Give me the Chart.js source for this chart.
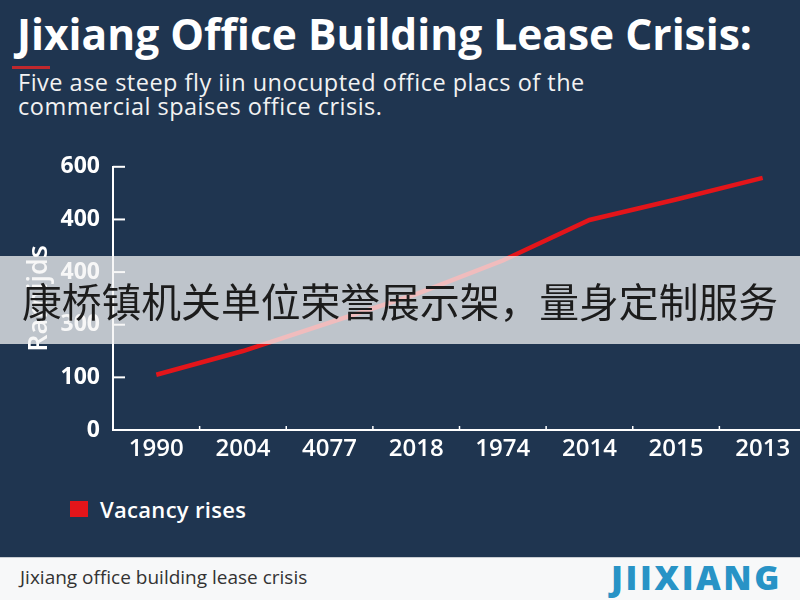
<!DOCTYPE html>
<html>
<head>
<meta charset="utf-8">
<script src="https://cdn.jsdelivr.net/npm/chart.js@4.4.0/dist/chart.umd.min.js"></script>
<style>
  html, body { margin: 0; padding: 0; }
  body { width: 800px; height: 600px; overflow: hidden; position: relative; background: #1f3550; font-family: "Open Sans", sans-serif; }
  .title { position: absolute; left: 17px; top: 5px; color: #fff; font-weight: 700; font-size: 42.5px; letter-spacing: 0px; white-space: nowrap; }
  .rule { position: absolute; left: 12px; top: 66px; width: 38px; height: 3px; background: #c0282d; }
  .sub { position: absolute; left: 18px; top: 70px; color: #f2f2f2; font-size: 23.5px; line-height: 24px; letter-spacing: 0.5px; white-space: nowrap; }
  .wrap { position: absolute; left: 0; top: 140px; width: 800px; height: 330px; overflow: hidden; }
  .legend { position: absolute; left: 70px; top: 494px; display: flex; align-items: center; color: #fff; font-size: 22px; font-weight: 600; letter-spacing: 0.3px; }
  .legend i { display: inline-block; width: 18px; height: 16px; margin-right: 12px; }
  .banner { position: absolute; left: 0; top: 256px; width: 800px; height: 88px; background: rgba(244,244,244,0.75);
            font-family: "Noto Sans CJK SC", sans-serif; font-size: 39.8px; color: #1c1c1c; line-height: 88px; text-align: center; }
  .footer { position: absolute; left: 0; top: 557px; width: 800px; height: 43px; background: #f7f8f9; border-top: 1px solid #c8ccd2; }
  .footer .name { position: absolute; left: 20px; top: 6px; font-size: 19px; color: #333; }
  .footer .logo { position: absolute; left: 611px; top: -4px; font-size: 34px; font-weight: 800; color: #2893c6; letter-spacing: 2.6px; }
</style>
</head>
<body>
<div class="title">Jixiang Office Building Lease Crisis:</div>
<div class="rule"></div>
<div class="sub">Five ase steep fly iin unocupted office placs of the<br>commercial spaises office crisis.</div>
<div class="wrap"><canvas id="leaseChart" width="806" height="330"></canvas></div>
<div class="legend" id="legend"></div>
<div class="banner">康桥镇机关单位荣誉展示架，量身定制服务</div>
<div class="footer">
  <div class="name">Jixiang office building lease crisis</div>
  <div class="logo">JIIXIANG</div>
</div>
<script>
// данные графика
const years = ['1990', '2004', '4077', '2018', '1974', '2014', '2015', '2013'];
const vacancy = [105, 150, 204, 258, 322, 399, 438, 479];
const yTickLabels = ['0', '100', '300', '400', '400', '600'];
const seriesName = 'Vacancy rises';
const lineColor = '#e3151a';

// короткие засечки внутрь области графика
const innerTicks = {
    id: 'innerTicks',
    afterDatasetsDraw(chart) {
        const { ctx, chartArea, scales } = chart;
        ctx.save();
        ctx.strokeStyle = '#ffffff';
        ctx.lineWidth = 2;
        scales.y.ticks.forEach((t, i) => {
            const py = scales.y.getPixelForTick(i);
            ctx.beginPath();
            ctx.moveTo(chartArea.left, py);
            ctx.lineTo(chartArea.left + 12, py);
            ctx.stroke();
        });
        ctx.lineWidth = 1.5;
        for (let i = 1; i < years.length; i++) {
            const px = scales.x.getPixelForValue(i - 0.5);
            ctx.beginPath();
            ctx.moveTo(px, chartArea.bottom);
            ctx.lineTo(px, chartArea.bottom - 4);
            ctx.stroke();
        }
        ctx.restore();
    }
};

const ctx = document.getElementById('leaseChart');
new Chart(ctx, {
    type: 'line',
    data: {
        labels: years,
        datasets: [{
            label: seriesName,
            data: vacancy,
            borderColor: lineColor,
            backgroundColor: lineColor,
            borderWidth: 4.5,
            pointRadius: 0,
            tension: 0,
            fill: false
        }]
    },
    options: {
        responsive: false,
        animation: false,
        layout: { padding: { top: 23, right: 0, left: 0, bottom: 0 } },
        plugins: {
            legend: { display: false },
            tooltip: { enabled: false }
        },
        scales: {
            x: {
                offset: true,
                grid: { display: true, drawOnChartArea: false, drawTicks: false, color: 'transparent' },
                border: { color: '#ffffff', width: 2 },
                ticks: { color: '#ffffff', padding: 5, font: { family: 'Open Sans', size: 24, weight: '600' } },
                afterFit(scale) { scale.height = 40; }
            },
            y: {
                min: 0,
                max: 500,
                grid: { drawOnChartArea: false, drawTicks: false, color: 'transparent' },
                border: { color: '#ffffff', width: 2 },
                ticks: {
                    stepSize: 100,
                    color: '#ffffff',
                    padding: 13,
                    font: { family: 'Open Sans', size: 23, weight: '700' },
                    callback: (v, i) => yTickLabels[i]
                },
                title: {
                    display: true,
                    text: 'Rarnijds',
                    color: '#ffffff',
                    padding: { top: 23, bottom: 0 },
                    font: { family: 'Open Sans', size: 27, weight: '600' }
                },
                afterFit(scale) { scale.width = 113; }
            }
        }
    },
    plugins: [innerTicks]
});

// легенда
document.getElementById('legend').innerHTML =
    '<i style="background:' + lineColor + '"></i>' + seriesName;
</script>
</body>
</html>
